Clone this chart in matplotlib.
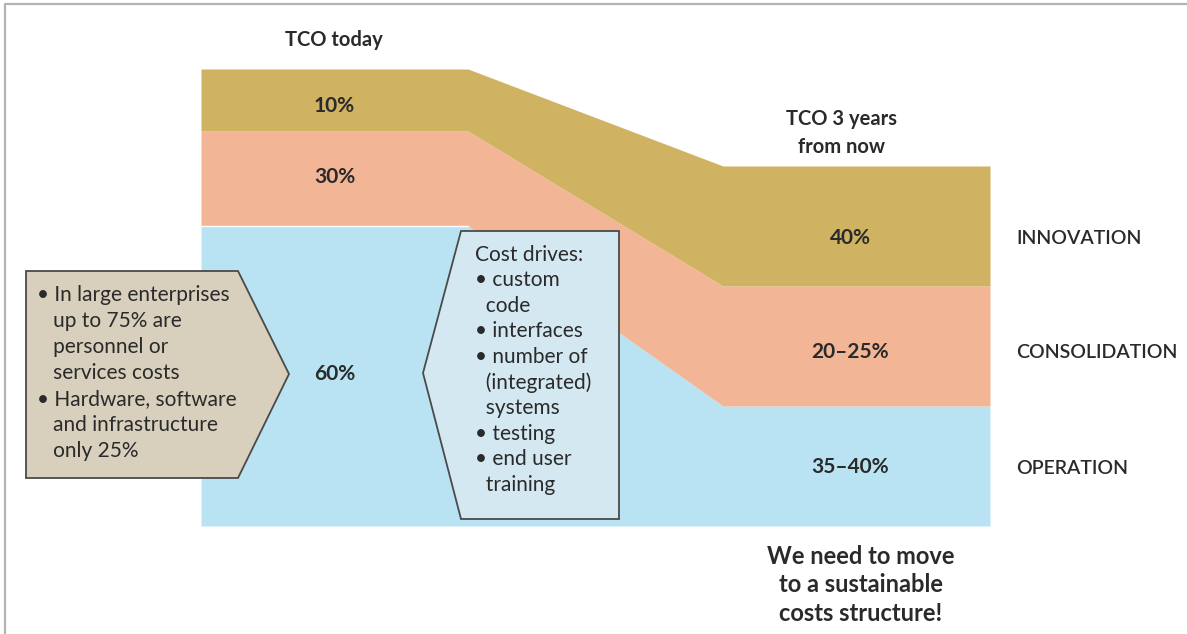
import numpy as np
import matplotlib
matplotlib.use("Agg")
import matplotlib.pyplot as plt
from matplotlib.patches import Polygon

plt.rcParams["font.family"] = ["Lato", "DejaVu Sans"]

# --- data -------------------------------------------------------------
categories = ["OPERATION", "CONSOLIDATION", "INNOVATION"]
labels_today = ["60%", "30%", "10%"]
labels_future = ["35–40%", "20–25%", "40%"]
# drawn band thickness (diagram units) today / in 3 years
band_today = [300, 95, 62]
band_future = [120, 120, 120]
band_colors = ["#B9E3F2", "#F2B696", "#D0B263"]

left_notes = ["• In large enterprises\n   up to 75% are\n   personnel or\n   services costs",
              "• Hardware, software\n   and infrastructure\n   only 25%"]
cost_drivers = ["custom\ncode", "interfaces", "number of\n(integrated)\nsystems",
                "testing", "end user\ntraining"]

TEXT = "#2a2a2a"

# --- layout -----------------------------------------------------------
W, H = 1187, 634
stage_x = np.array([201, 468, 723, 990])
base_y = 526
y_today_lbl = [374, 177, 106]
y_future_lbl = [467, 352, 238]

fig = plt.figure(figsize=(W / 100, H / 100), dpi=100)
ax = fig.add_axes([0, 0, 1, 1])
ax.set_xlim(0, W)
ax.set_ylim(H, 0)
ax.axis("off")

# frame
ax.plot([5, 5, W + 5], [H + 5, 4, 4], color="#b4b4b4", lw=1.6, clip_on=False)

# stacked bands
lower = np.full(4, float(base_y))
for i in range(3):
    th = np.array([band_today[i], band_today[i], band_future[i], band_future[i]])
    upper = lower - th
    ax.fill_between(stage_x, lower, upper, color=band_colors[i], lw=0, zorder=1)
    if i == 0:
        ax.plot(stage_x[:2], upper[:2], color="white", lw=1.0, zorder=2)
    lower = upper

# band labels
mid_today = (stage_x[0] + stage_x[1]) / 2
mid_future = (stage_x[2] + stage_x[3]) / 2 - 6
for i in range(3):
    ax.text(mid_today, y_today_lbl[i], labels_today[i], ha="center", va="center",
            fontsize=15, fontweight="bold", color=TEXT, zorder=5)
    ax.text(mid_future, y_future_lbl[i], labels_future[i], ha="center", va="center",
            fontsize=15, fontweight="bold", color=TEXT, zorder=5)
    ax.text(1016, y_future_lbl[i] + 1, categories[i], ha="left", va="center",
            fontsize=14, fontweight="semibold", color=TEXT)

ax.text(334, 40, "TCO today", ha="center", va="center",
        fontsize=14.5, fontweight="bold", color=TEXT)
ax.text(841, 133, "TCO 3 years\nfrom now", ha="center", va="center",
        fontsize=14.5, fontweight="bold", color=TEXT, linespacing=1.55)
ax.text(861, 585, "We need to move\nto a sustainable\ncosts structure!", ha="center",
        va="center", fontsize=17, fontweight="bold", color=TEXT, linespacing=1.3)

# left call-out (arrow pointing right)
left_shape = [(26, 271), (238, 271), (289, 374), (238, 478), (26, 478)]
ax.add_patch(Polygon(left_shape, closed=True, fc="#D8CFBD", ec="#4a4a4a",
                     lw=1.3, zorder=4))
ax.text(37, 285, "\n".join(left_notes), ha="left", va="top", fontsize=15,
        color=TEXT, linespacing=1.38, zorder=5)

# right call-out (arrow pointing left)
right_shape = [(461, 231), (619, 231), (619, 519), (461, 519), (423, 373)]
ax.add_patch(Polygon(right_shape, closed=True, fc="#D4E8F1", ec="#4a4a4a",
                     lw=1.3, zorder=4))
lines = ["Cost drives:"]
for item in cost_drivers:
    parts = item.split("\n")
    lines.append("• " + parts[0])
    lines.extend("  " + p for p in parts[1:])
ax.text(475, 245, "\n".join(lines), ha="left", va="top", fontsize=15,
        color=TEXT, linespacing=1.34, zorder=5)

fig.savefig("out.png", dpi=100)
